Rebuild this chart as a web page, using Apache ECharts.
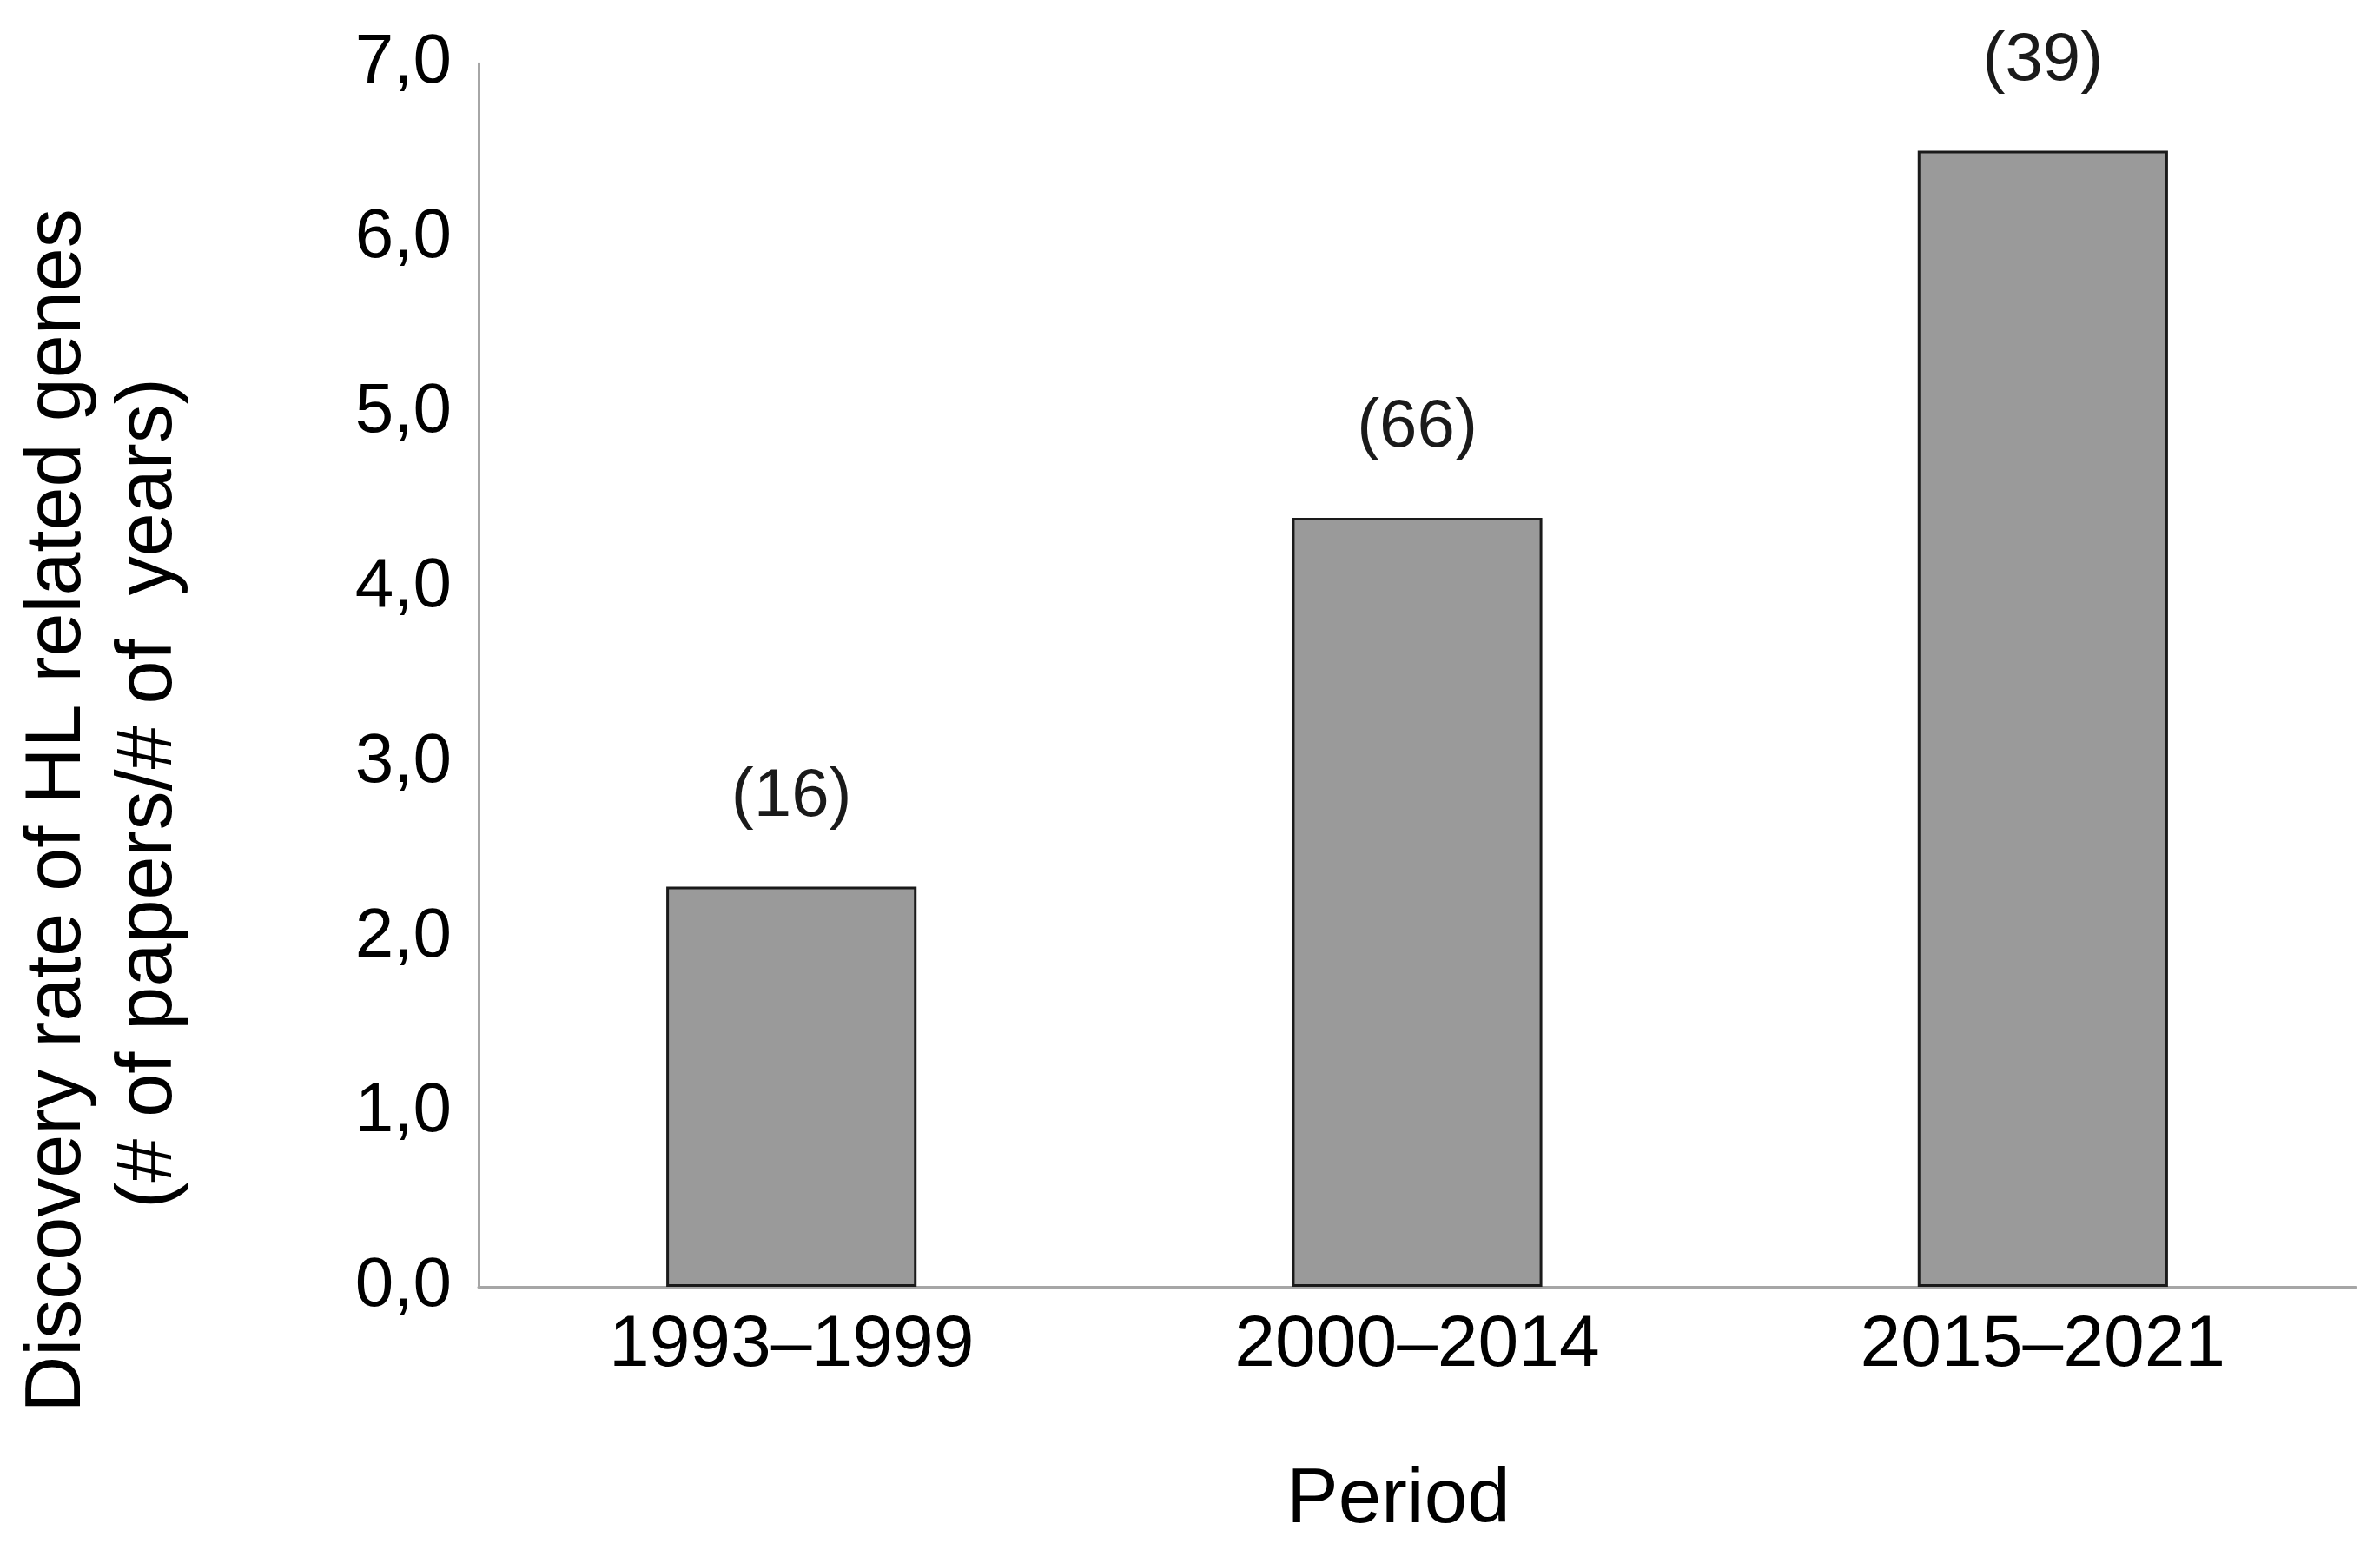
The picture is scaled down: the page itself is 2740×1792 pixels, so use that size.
<!DOCTYPE html>
<html>
<head>
<meta charset="utf-8">
<script src="https://cdn.jsdelivr.net/npm/echarts@6/dist/echarts.min.js"></script>
<style>
  html, body { margin: 0; padding: 0; background: #ffffff; }
  #chart { width: 2740px; height: 1792px; }
</style>
</head>
<body>
<div id="chart"></div>
<script>
// ---- Data ----
var periods = ['1993–1999', '2000–2014', '2015–2021'];
var discoveryRates = [2.29, 4.4, 6.5];
var paperCounts = [16, 66, 39];
var yTicks = [0, 1, 2, 3, 4, 5, 6, 7];

var yTitleLine1 = 'Discovery rate of HL related genes';
var yTitleLine2 = '(# of papers/# of  years)';
var xTitle = 'Period';

var FONT = '"Liberation Sans", Arial, Helvetica, sans-serif';

var chart = echarts.init(document.getElementById('chart'), null, { renderer: 'canvas' });

chart.setOption({
  backgroundColor: '#ffffff',
  animation: false,
  grid: { left: 551, right: 28, top: 73, bottom: 311, containLabel: false },
  xAxis: {
    type: 'category',
    data: periods,
    axisLine: { show: true, lineStyle: { color: '#a6a6a6', width: 3 } },
    axisTick: { show: false },
    axisLabel: {
      color: '#000000', fontFamily: FONT, fontSize: 84, lineHeight: 84, margin: 26
    },
    splitLine: { show: false }
  },
  yAxis: {
    type: 'value',
    min: yTicks[0],
    max: yTicks[yTicks.length - 1],
    interval: 1,
    axisLine: { show: true, lineStyle: { color: '#a6a6a6', width: 3 } },
    axisTick: { show: false },
    splitLine: { show: false },
    axisLabel: {
      color: '#000000', fontFamily: FONT, fontSize: 80, lineHeight: 80, margin: 31,
      formatter: function (v) { return v.toFixed(1).replace('.', ','); }
    }
  },
  series: [{
    type: 'bar',
    data: discoveryRates,
    barWidth: '40%',
    itemStyle: { color: '#9a9a9a', borderColor: '#1a1a1a', borderWidth: 3 },
    label: {
      show: true,
      position: 'top',
      distance: 64,
      color: '#1a1a1a',
      fontFamily: FONT,
      fontSize: 78,
      lineHeight: 78,
      formatter: function (p) { return '(' + paperCounts[p.dataIndex] + ')'; }
    }
  }],
  graphic: [
    {
      type: 'text', x: 67, y: 933, rotation: Math.PI / 2,
      style: { text: yTitleLine1, font: '90px ' + FONT, fill: '#000000', align: 'center', verticalAlign: 'middle' }
    },
    {
      type: 'text', x: 172, y: 913, rotation: Math.PI / 2,
      style: { text: yTitleLine2, font: '90px ' + FONT, fill: '#000000', align: 'center', verticalAlign: 'middle' }
    },
    {
      type: 'text', x: 1610, y: 1727,
      style: { text: xTitle, font: '89px ' + FONT, fill: '#000000', align: 'center', verticalAlign: 'middle' }
    }
  ]
});
</script>
</body>
</html>
